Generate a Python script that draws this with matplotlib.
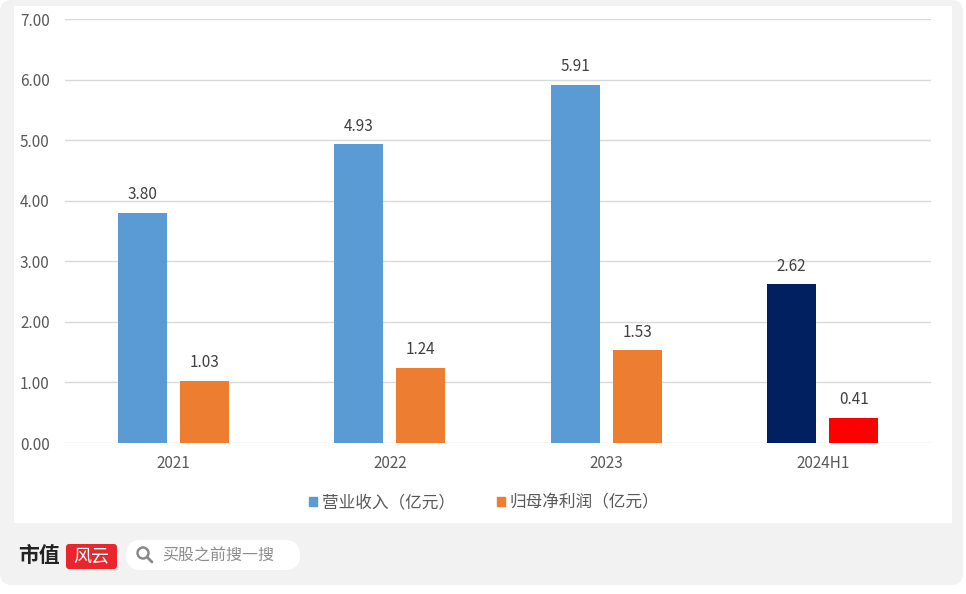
import matplotlib
matplotlib.use("Agg")
import matplotlib.pyplot as plt
from matplotlib.patches import FancyBboxPatch, Rectangle, Circle
import numpy as np

plt.rcParams['font.family'] = ['Noto Sans CJK SC', 'DejaVu Sans']

years = ["2021", "2022", "2023", "2024H1"]
revenue = [3.80, 4.93, 5.91, 2.62]
net_profit = [1.03, 1.24, 1.53, 0.41]
rev_colors = ["#5B9BD5", "#5B9BD5", "#5B9BD5", "#002060"]
np_colors = ["#ED7D31", "#ED7D31", "#ED7D31", "#FF0000"]
yticks = [0, 1, 2, 3, 4, 5, 6, 7]
legend_labels = ["营业收入（亿元）", "归母净利润（亿元）"]

W, H = 966, 594
fig = plt.figure(figsize=(W / 100, H / 100), dpi=100)
fig.patch.set_facecolor("white")


def fx(px):
    return px / W


def fy(py):
    return 1 - py / H


# background axes in pixel coordinates (card, panel, footer)
bgax = fig.add_axes([0, 0, 1, 1], zorder=0)
bgax.set_xlim(0, W)
bgax.set_ylim(H, 0)
bgax.axis("off")
bgax.add_patch(FancyBboxPatch((0, 0), 963, 585, boxstyle="round,pad=0,rounding_size=12",
                              facecolor="#f2f2f2", edgecolor="none"))
bgax.add_patch(Rectangle((14, 6), 952 - 14, 523 - 6, facecolor="white", edgecolor="none"))

# footer: logo and search box
bgax.text(18, 556, "市值", fontsize=15, fontweight="bold", color="#222222",
          va="center", ha="left")
bgax.add_patch(FancyBboxPatch((66, 544), 51, 25, boxstyle="round,pad=0,rounding_size=3",
                              facecolor="#e8262c", edgecolor="none"))
bgax.text(91, 556, "风云", fontsize=13, color="white", style="italic",
          va="center", ha="center")
bgax.add_patch(FancyBboxPatch((126, 540), 174, 30, boxstyle="round,pad=0,rounding_size=15",
                              facecolor="white", edgecolor="none"))
bgax.add_patch(Circle((143, 553), 5.5, facecolor="none", edgecolor="#8a8a8a", linewidth=1.8))
bgax.plot([147, 152], [557, 562], color="#8a8a8a", linewidth=2, solid_capstyle="round")
bgax.text(162, 555, "买股之前搜一搜", fontsize=11.5, color="#8c8c8c",
          va="center", ha="left")

ax = fig.add_axes([fx(65), fy(443), fx(931 - 65), (443 - 19) / H], zorder=2)
ax.set_facecolor("none")
x = np.arange(len(years))
w = 0.226
off = 0.144
b1 = ax.bar(x - off, revenue, w, color=rev_colors, zorder=3)
b2 = ax.bar(x + off, net_profit, w, color=np_colors, zorder=3)

for bars, vals in ((b1, revenue), (b2, net_profit)):
    for b, v in zip(bars, vals):
        ax.annotate(f"{v:.2f}", (b.get_x() + b.get_width() / 2, v),
                    xytext=(0, 7), textcoords="offset points",
                    ha="center", va="bottom", fontsize=11, color="#404040")

ax.set_xlim(-0.5, len(years) - 0.5)
ax.set_ylim(0, 7)
ax.set_yticks(yticks)
ax.set_yticklabels([f"{t:.2f}" for t in yticks])
ax.set_xticks(x)
ax.set_xticklabels(years)
ax.tick_params(axis="both", length=0, labelsize=11, colors="#595959")
ax.tick_params(axis="y", pad=11)
ax.tick_params(axis="x", pad=9)
ax.grid(axis="y", color="#d9d9d9", linewidth=1, zorder=0)
for s in ax.spines.values():
    s.set_visible(False)

# legend
handles = [Rectangle((0, 0), 1, 1, color="#5B9BD5"),
           Rectangle((0, 0), 1, 1, color="#ED7D31")]
leg = fig.legend(handles, legend_labels, loc="center", bbox_to_anchor=(fx(484), fy(503)),
                 ncol=2, frameon=False, fontsize=12, handlelength=0.5,
                 handleheight=0.5, handletextpad=0.3, columnspacing=2.5,
                 labelcolor="#595959")
leg.set_zorder(5)

fig.savefig("out.png", dpi=100, facecolor=fig.get_facecolor())
